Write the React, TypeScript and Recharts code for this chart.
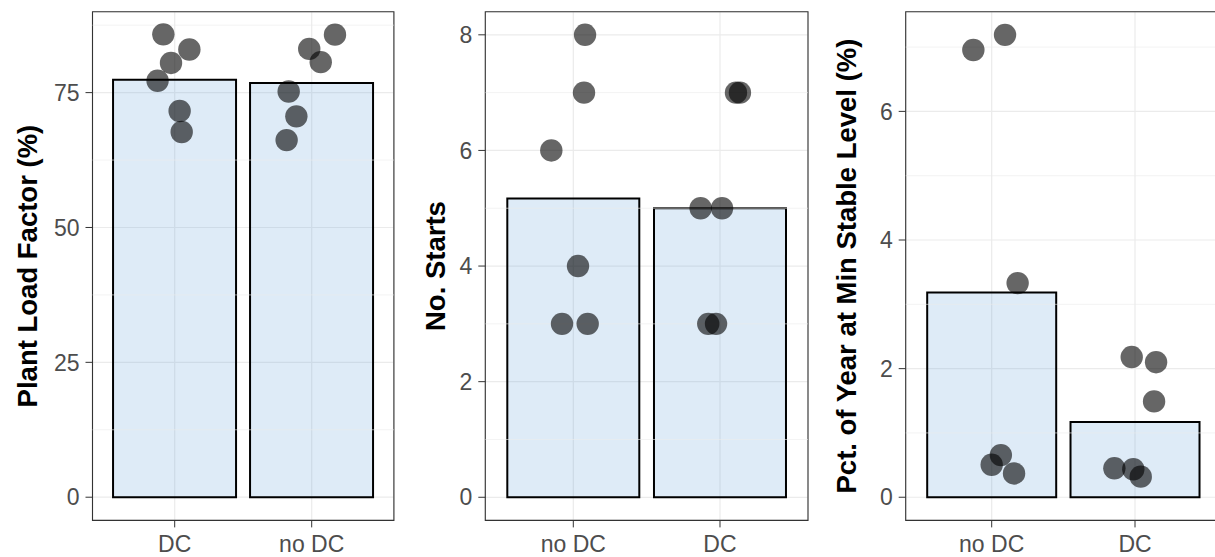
import React from 'react';
import {
  ComposedChart,
  Bar,
  Scatter,
  XAxis,
  YAxis,
  CartesianGrid,
  ReferenceLine,
  ReferenceArea,
} from 'recharts';

const FONT = '"Liberation Sans", Arial, Helvetica, sans-serif';

// ---- Panel 1: Plant Load Factor (%) ----
const plfCategories = ['DC', 'no DC'];
const plfMeans = [77.4, 76.8];
const plfValuesDC = [85.8, 83.0, 80.5, 77.2, 71.6, 67.7];
const plfJitterDC = [-0.083, 0.107, -0.027, -0.125, 0.036, 0.051];
const plfValuesNoDC = [85.75, 83.1, 80.65, 75.2, 70.6, 66.2];
const plfJitterNoDC = [0.17, -0.018, 0.066, -0.168, -0.112, -0.183];
const plfMajorTicks = [0, 25, 50, 75];
const plfMinorTicks = [12.5, 37.5, 62.5, 87.5];

// ---- Panel 2: No. Starts ----
const startsCategories = ['no DC', 'DC'];
const startsMeans = [5.17, 5.0];
const startsValuesNoDC = [8, 7, 6, 4, 3, 3];
const startsJitterNoDC = [0.08, 0.073, -0.15, 0.032, -0.077, 0.098];
const startsValuesDC = [7, 7, 5, 5, 3, 3];
const startsJitterDC = [0.109, 0.136, -0.132, 0.014, -0.08, -0.027];
const startsMajorTicks = [0, 2, 4, 6, 8];
const startsMinorTicks = [1, 3, 5, 7];

// ---- Panel 3: Pct. of Year at Min Stable Level (%) ----
const mslCategories = ['no DC', 'DC'];
const mslMeans = [3.185, 1.17];
const mslValuesNoDC = [6.955, 7.19, 3.33, 0.655, 0.505, 0.37];
const mslJitterNoDC = [-0.128, 0.093, 0.181, 0.064, 0.0, 0.156];
const mslValuesDC = [2.18, 2.1, 1.49, 0.45, 0.435, 0.32];
const mslJitterDC = [-0.023, 0.147, 0.133, -0.144, -0.012, 0.04];
const mslMajorTicks = [0, 2, 4, 6];
const mslMinorTicks = [1, 3, 5, 7];

type PanelProps = {
  left: number;
  axisWidth: number;
  plotWidth: number;
  rightMargin: number;
  categories: string[];
  means: number[];
  groups: number[][];
  jitters: number[][];
  domain: [number, number];
  majorTicks: number[];
  minorTicks: number[];
  title: string;
  titleOffset: number;
};

const renderDot = (p: any) => (
  <circle cx={p.cx} cy={p.cy} r={11.2} fill="#000" fillOpacity={0.6} />
);

function Panel(props: PanelProps) {
  const {
    left,
    axisWidth,
    plotWidth,
    rightMargin,
    categories,
    means,
    groups,
    jitters,
    domain,
    majorTicks,
    minorTicks,
    title,
    titleOffset,
  } = props;
  const unit = plotWidth / 2.2;
  const pad = unit * 0.1;
  const barData = categories.map((c, i) => ({ name: c, value: means[i] }));
  const points = groups.flatMap((vals, gi) =>
    vals.map((v, k) => ({ x: gi + 1 + jitters[gi][k], y: v }))
  );
  const width = axisWidth + plotWidth + rightMargin;
  const tickStyle = { fill: '#4d4d4d', fontSize: 23, fontFamily: FONT };
  return (
    <div style={{ position: 'absolute', left, top: 0 }}>
      <ComposedChart
        width={width}
        height={557}
        data={barData}
        margin={{ top: 11.7, right: rightMargin, bottom: 0, left: 0 }}
        barCategoryGap="5%"
      >
        <CartesianGrid stroke="#ebebeb" strokeWidth={1.2} />
        {minorTicks.map((t) => (
          <ReferenceLine key={t} y={t} stroke="#ebebeb" strokeWidth={0.6} />
        ))}
        <XAxis
          dataKey="name"
          type="category"
          padding={{ left: pad, right: pad }}
          axisLine={false}
          tickSize={7}
          tickMargin={8}
          tickLine={{ stroke: '#333' }}
          tick={tickStyle}
          height={36.6}
          interval={0}
        />
        <XAxis
          xAxisId="num"
          dataKey="x"
          type="number"
          domain={[0.4, 2.6]}
          hide
          allowDataOverflow
        />
        <YAxis
          type="number"
          domain={domain}
          ticks={majorTicks}
          allowDataOverflow
          width={axisWidth}
          axisLine={false}
          tickSize={7}
          tickMargin={6}
          tickLine={{ stroke: '#333' }}
          tick={tickStyle}
          label={{
            value: title,
            angle: -90,
            position: 'insideLeft',
            offset: titleOffset,
            style: {
              textAnchor: 'middle',
              fontWeight: 'bold',
              fontSize: 27.5,
              fill: '#000',
              fontFamily: FONT,
            },
          }}
        />
        <Bar
          dataKey="value"
          fill="#5b9bd5"
          fillOpacity={0.2}
          stroke="#000"
          strokeWidth={2}
          isAnimationActive={false}
        />
        <Scatter
          xAxisId="num"
          data={points}
          dataKey="y"
          isAnimationActive={false}
          shape={renderDot}
        />
        <ReferenceArea
          xAxisId="num"
          x1={0.4}
          x2={2.6}
          y1={domain[0]}
          y2={domain[1]}
          fill="none"
          stroke="#333"
          strokeWidth={1.1}
          ifOverflow="visible"
        />
      </ComposedChart>
    </div>
  );
}

export default function App() {
  return (
    <div
      style={{
        position: 'fixed',
        left: 0,
        top: 0,
        width: 1215,
        height: 557,
        overflow: 'hidden',
        background: '#fff',
      }}
    >
      <Panel
        left={0}
        axisWidth={92.5}
        plotWidth={301.4}
        rightMargin={6.1}
        categories={plfCategories}
        means={plfMeans}
        groups={[plfValuesDC, plfValuesNoDC]}
        jitters={[plfJitterDC, plfJitterNoDC]}
        domain={[-4.3, 90]}
        majorTicks={plfMajorTicks}
        minorTicks={plfMinorTicks}
        title="Plant Load Factor (%)"
        titleOffset={27.5}
      />
      <Panel
        left={400}
        axisWidth={85.3}
        plotWidth={322.7}
        rightMargin={7}
        categories={startsCategories}
        means={startsMeans}
        groups={[startsValuesNoDC, startsValuesDC]}
        jitters={[startsJitterNoDC, startsJitterDC]}
        domain={[-0.4, 8.4]}
        majorTicks={startsMajorTicks}
        minorTicks={startsMinorTicks}
        title="No. Starts"
        titleOffset={35.3}
      />
      <Panel
        left={815}
        axisWidth={90.7}
        plotWidth={315.3}
        rightMargin={6}
        categories={mslCategories}
        means={mslMeans}
        groups={[mslValuesNoDC, mslValuesDC]}
        jitters={[mslJitterNoDC, mslJitterDC]}
        domain={[-0.36, 7.55]}
        majorTicks={mslMajorTicks}
        minorTicks={mslMinorTicks}
        title="Pct. of Year at Min Stable Level (%)"
        titleOffset={31.7}
      />
    </div>
  );
}
